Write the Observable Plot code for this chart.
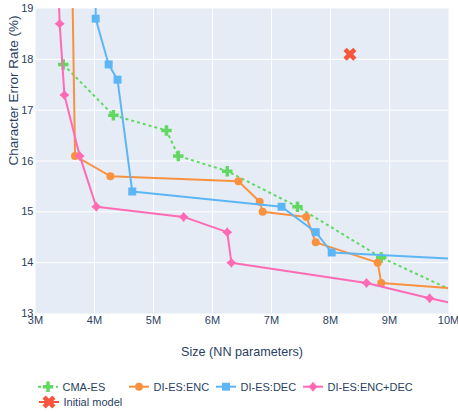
<!DOCTYPE html>
<html><head><meta charset="utf-8">
<script src="https://cdn.jsdelivr.net/npm/d3@7"></script>
<script src="https://cdn.jsdelivr.net/npm/@observablehq/plot@0.6"></script>
<style>
body{margin:0;background:#fff;}
#wrap{position:relative;width:458px;height:412px;font-family:"Liberation Sans",Arial,sans-serif;}
#legend{position:absolute;left:0;top:381px;}
</style></head><body><div id="wrap"></div>
<script>
// ---- data (x in millions of NN parameters, y = character error rate %) ----
const seriesNames = ["CMA-ES", "DI-ES:ENC", "DI-ES:DEC", "DI-ES:ENC+DEC", "Initial model"];

const cmaX = [3.47, 4.32, 5.22, 5.42, 6.25, 7.44, 8.86, 10.5];
const cmaY = [17.9, 16.9, 16.6, 16.1, 15.8, 15.1, 14.1, 13.22];

const encX = [3.59, 3.67, 4.27, 6.44, 6.80, 6.85, 7.59, 7.75, 8.80, 8.86, 10.5];
const encY = [22.0, 16.1, 15.7, 15.6, 15.2, 15.0, 14.9, 14.4, 14.0, 13.6, 13.46];

const decX = [4.01, 4.02, 4.24, 4.39, 4.64, 7.17, 7.75, 8.02, 10.5];
const decY = [22.0, 18.8, 17.9, 17.6, 15.4, 15.1, 14.6, 14.2, 14.05];

const bothX = [3.30, 3.41, 3.49, 3.75, 4.03, 5.51, 6.25, 6.32, 8.61, 9.68, 10.5];
const bothY = [22.0, 18.7, 17.3, 16.1, 15.1, 14.9, 14.6, 14.0, 13.6, 13.3, 13.09];

const initX = [8.33];
const initY = [18.1];

const xTicks = [3, 4, 5, 6, 7, 8, 9, 10];
const yTicks = [13, 14, 15, 16, 17, 18, 19];
const xLabel = "Size (NN parameters)";
const yLabel = "Character Error Rate (%)";

// ---- styling ----
const colors = ["#62d862", "#f9913f", "#5cb6f5", "#ff6ab4", "#f8553d"];
const textColor = "#2a3f5f";
const font = "'Liberation Sans', Arial, sans-serif";

const starDiamond = {
  draw(ctx, size) {
    const r = Math.sqrt(size / Math.PI);
    const k = r * 0.45;
    ctx.moveTo(0, -r); ctx.lineTo(k, -k); ctx.lineTo(r, 0); ctx.lineTo(k, k);
    ctx.lineTo(0, r); ctx.lineTo(-k, k); ctx.lineTo(-r, 0); ctx.lineTo(-k, -k);
    ctx.closePath();
  }
};

const rows = (xs, ys) => xs.map((x, i) => ({x, y: ys[i]}));
const series = [
  {data: rows(cmaX, cmaY), symbol: "cross", r: 4.4, dash: "3,3"},
  {data: rows(encX, encY), symbol: "circle", r: 4, dash: null},
  {data: rows(decX, decY), symbol: "square", r: 4.5, dash: null},
  {data: rows(bothX, bothY), symbol: starDiamond, r: 5, dash: null},
];

const marks = [
  Plot.frame({fill: "#E5ECF6", stroke: "none"}),
  Plot.gridX(xTicks.slice(1, -1), {stroke: "white", strokeOpacity: 1, strokeWidth: 1}),
  Plot.gridY(yTicks.slice(1, -1), {stroke: "white", strokeOpacity: 1, strokeWidth: 1}),
  Plot.axisX(xTicks, {tickSize: 0, tickPadding: 3, tickFormat: d => d + "M", label: null, fontSize: 11, fill: textColor}),
  Plot.axisY(yTicks, {tickSize: 0, tickPadding: 2, tickFormat: d => String(d), label: null, fontSize: 11, fill: textColor}),
  Plot.text([xLabel], {text: d => d, frameAnchor: "bottom", dy: 42, fontSize: 12.6, fill: textColor}),
  Plot.text([yLabel], {text: d => d, frameAnchor: "left", dx: -22, dy: 4.5, rotate: -90, fontSize: 13.5, fill: textColor}),
];
series.forEach((s, i) => {
  marks.push(Plot.line(s.data, {x: "x", y: "y", stroke: colors[i], strokeWidth: 2, strokeDasharray: s.dash,
    strokeLinecap: s.dash ? "butt" : "round", clip: true}));
  marks.push(Plot.dot(s.data, {x: "x", y: "y", symbol: s.symbol, r: s.r, fill: colors[i], stroke: "none", clip: true}));
});
marks.push(Plot.dot(rows(initX, initY), {x: "x", y: "y", symbol: "cross", r: 5.8, rotate: 45, fill: colors[4], stroke: "none", clip: true}));

const chart = Plot.plot({
  width: 458, height: 368,
  marginTop: 8, marginRight: 10, marginBottom: 55, marginLeft: 35,
  style: {fontFamily: font, color: textColor, background: "white", overflow: "visible"},
  x: {domain: [3, 10]},
  y: {domain: [13, 19]},
  marks
});
document.getElementById("wrap").appendChild(chart);

// ---- legend (below the chart) ----
const legendItems = [
  {row: 0, x: 38}, {row: 0, x: 129}, {row: 0, x: 216}, {row: 0, x: 303}, {row: 1, x: 39}
];
const legendSymbols = [
  {type: d3.symbolCross, r: 4.4}, {type: d3.symbolCircle, r: 4}, {type: d3.symbolSquare, r: 4.5},
  {type: starDiamond, r: 5}, {type: d3.symbolCross, r: 5.8, rot: 45}
];
const dashes = ["3,3", null, null, null, null];
const lg = d3.create("svg").attr("id", "legend").attr("width", 458).attr("height", 31)
  .style("font-family", font);
const rowY = [5.7, 21];
legendItems.forEach((it, i) => {
  const g = lg.append("g").attr("transform", `translate(${it.x},${rowY[it.row]})`);
  g.append("line").attr("x1", 0).attr("x2", 20).attr("y1", 0).attr("y2", 0)
    .attr("stroke", colors[i]).attr("stroke-width", 2).attr("stroke-dasharray", dashes[i]);
  const sy = legendSymbols[i];
  g.append("path").attr("d", d3.symbol(sy.type, sy.r * sy.r * Math.PI)())
    .attr("transform", `translate(10,0) rotate(${sy.rot || 0})`).attr("fill", colors[i]);
  g.append("text").attr("x", 24.5).attr("y", 0).attr("dy", "0.35em")
    .attr("font-size", 11).attr("fill", textColor).text(seriesNames[i]);
});
document.getElementById("wrap").appendChild(lg.node());
</script>
</body></html>
